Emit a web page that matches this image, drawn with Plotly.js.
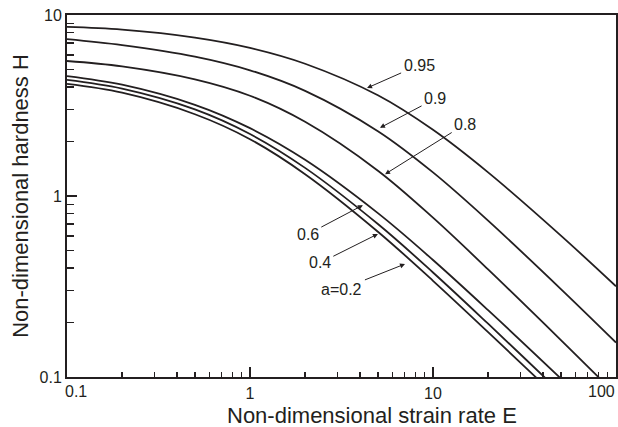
<!DOCTYPE html>
<html>
<head>
<meta charset="utf-8">
<script src="https://cdn.plot.ly/plotly-3.0.1.min.js"></script>
<style>html,body{margin:0;padding:0;background:#fff;}#chart{width:618px;height:427px;}</style>
</head>
<body>
<div id="chart"></div>
<script>
// Non-dimensional strain rate E (x) and hardness H (y), one series per a
const strainRate = [0.1, 0.2, 0.5, 1, 2, 5, 10, 20, 50, 100];
const h095 = [8.59, 8.30, 7.50, 6.58, 5.38, 3.60, 2.32, 1.35, 0.604, 0.317];
const h090 = [7.36, 6.82, 5.89, 4.95, 3.81, 2.28, 1.35, 0.731, 0.306, 0.155];
const h080 = [5.57, 5.20, 4.41, 3.58, 2.57, 1.38, 0.759, 0.393, 0.160, 0.080];
const h060 = [4.60, 4.12, 3.19, 2.37, 1.585, 0.804, 0.443, 0.234, 0.098, 0.050];
const h040 = [4.38, 3.92, 3.01, 2.20, 1.43, 0.700, 0.378, 0.197, 0.0817, 0.0417];
const h020 = [4.16, 3.72, 2.83, 2.06, 1.32, 0.635, 0.340, 0.177, 0.0736, 0.0376];
const seriesNames = ['0.95', '0.9', '0.8', '0.6', '0.4', 'a=0.2'];

// curve labels: text and arrow-tip point (E, H)
const labelText = ['0.95', '0.9', '0.8', '0.6', '0.4', 'a=0.2'];
const labelE = [4.36, 5.13, 5.47, 4.14, 5.0, 7.03];
const labelH = [3.95, 2.38, 1.32, 0.89, 0.617, 0.421];

const xTickVals = [0.1, 1, 10, 100];
const xTickText = ['', '1', '10', ''];
const yTickVals = [0.1, 1, 10];
const yTickText = ['0.1', '1', '10'];

const xMinor = [0.2,0.3,0.4,0.5,0.6,0.7,0.8,0.9,2,3,4,5,6,7,8,9,20,30,40,50,60,70,80,90];
const yMinor = [0.2,0.3,0.4,0.5,0.6,0.7,0.8,0.9,2,3,4,5,6,7,8,9];

const ink = '#231f20';
const font = 'Liberation Sans, Arial, Helvetica, sans-serif';

const allH = [h095, h090, h080, h060, h040, h020];
const traces = allH.map((h, i) => ({
  x: strainRate, y: h, type: 'scatter', mode: 'lines', name: seriesNames[i],
  line: {color: ink, width: 1.8, shape: 'spline', smoothing: 1},
  hoverinfo: 'skip'
}));

const labelOffsets = [[52,-23],[55,-29],[80,-50],[-55,29],[-58,29],[-63,25]];
const annotations = labelText.map((t, i) => ({
  x: Math.log10(labelE[i]), y: Math.log10(labelH[i]), xref: 'x', yref: 'y',
  text: t, showarrow: true, ax: labelOffsets[i][0], ay: labelOffsets[i][1],
  axref: 'pixel', ayref: 'pixel',
  arrowhead: 2, arrowsize: 1, arrowwidth: 1, arrowcolor: ink,
  standoff: 0, startstandoff: 1,
  font: {family: font, size: 16, color: ink}
}));
// end tick labels shifted inward, as in the original
annotations.push({x: Math.log10(0.1), y: 0, xref: 'x', yref: 'paper', text: '0.1', showarrow: false,
  xanchor: 'left', yanchor: 'top', xshift: -3, yshift: -5, borderpad: 0, font: {family: font, size: 16, color: ink}});
annotations.push({x: Math.log10(100), y: 0, xref: 'x', yref: 'paper', text: '100', showarrow: false,
  xanchor: 'right', yanchor: 'top', yshift: -5, borderpad: 0, font: {family: font, size: 16, color: ink}});
// x-axis title
annotations.push({x: (372 - 67) / (616 - 67), y: 0, xref: 'paper', yref: 'paper',
  text: 'Non-dimensional strain rate E', showarrow: false, borderpad: 0,
  xanchor: 'center', yanchor: 'middle', yshift: -(415 - 377),
  font: {family: font, size: 22, color: ink}});

const layout = {
  width: 618, height: 427,
  margin: {l: 67, r: 2, t: 15, b: 50},
  paper_bgcolor: '#fff', plot_bgcolor: '#fff',
  showlegend: false,
  font: {family: font, size: 16, color: ink},
  xaxis: {
    type: 'log', range: [-1, 2], showgrid: false, zeroline: false,
    showline: true, linecolor: ink, linewidth: 2, mirror: true,
    ticks: 'inside', ticklen: 10, tickwidth: 1.5, tickcolor: ink,
    tickvals: xTickVals, ticktext: xTickText, ticklabelstandoff: 1,
    tickfont: {family: font, size: 16, color: ink},
    minor: {tickvals: xMinor, ticks: 'inside', ticklen: 5, tickwidth: 1.5, tickcolor: ink, showgrid: false}
  },
  yaxis: {
    type: 'log', range: [-1, 1], showgrid: false, zeroline: false,
    showline: true, linecolor: ink, linewidth: 2, mirror: true,
    ticks: 'inside', ticklen: 10, tickwidth: 1.5, tickcolor: ink,
    tickvals: yTickVals, ticktext: yTickText,
    tickfont: {family: font, size: 16, color: ink},
    minor: {tickvals: yMinor, ticks: 'inside', ticklen: 7, tickwidth: 1.5, tickcolor: ink, showgrid: false},
    title: {text: 'Non-dimensional hardness H', font: {family: font, size: 22, color: ink}, standoff: 5}
  },
  annotations: annotations
};

Plotly.newPlot('chart', traces, layout, {staticPlot: true, displayModeBar: false});
</script>
</body>
</html>
